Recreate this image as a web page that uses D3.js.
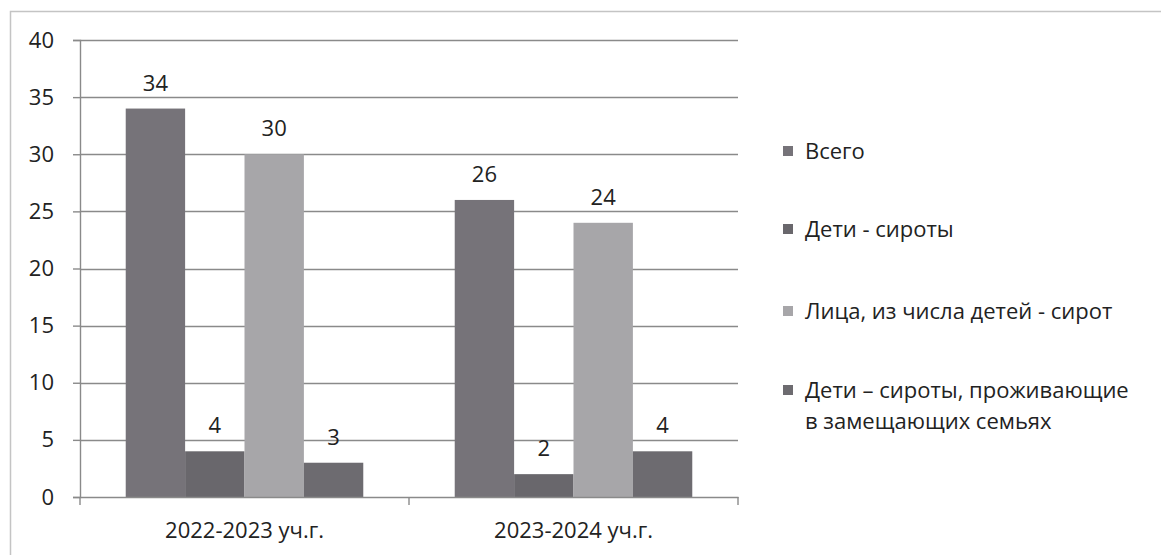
<!DOCTYPE html>
<meta charset="utf-8">
<script src="https://d3js.org/d3.v7.min.js"></script>
<style>
  body { margin: 0; background: #fff; }
  text { font-family: "Open Sans", "Noto Sans", sans-serif; fill: #222; }
</style>
<div id="my_dataviz"></div>
<script>

// data
var categories = ["2022-2023 уч.г.", "2023-2024 уч.г."];
var seriesNames = ["Всего", "Дети - сироты", "Лица, из числа детей - сирот", "Дети – сироты, проживающие в замещающих семьях"];
var legendLines = [["Всего"], ["Дети - сироты"], ["Лица, из числа детей - сирот"], ["Дети – сироты, проживающие", "в замещающих семьях"]];
var vsego = [34, 26];
var deti = [4, 2];
var litsa = [30, 24];
var zamesh = [3, 4];
var yTicks = [0, 5, 10, 15, 20, 25, 30, 35, 40];
var colors = ["#767379", "#69676c", "#a7a6a9", "#6d6b70"];

var seriesValues = [vsego, deti, litsa, zamesh];

var W = 1161, H = 555;
var margin = {top: 40, left: 80, right: 423, bottom: 58};
var width = W - margin.left - margin.right,
    height = H - margin.top - margin.bottom;
var fs = "22px";

var svg = d3.select("#my_dataviz")
  .append("svg")
    .attr("width", W)
    .attr("height", H);

// outer chart border
svg.append("path")
    .attr("d", "M10.5," + H + "V11.5H" + W)
    .attr("fill", "none")
    .attr("stroke", "#c4c4c4")
    .attr("stroke-width", 1.5);

var g = svg.append("g")
    .attr("transform", "translate(" + margin.left + "," + margin.top + ")");

var x0 = d3.scaleBand()
    .domain(categories)
    .range([0, width]);

// Excel style: bars occupy band minus gap (gap ~ 1.54 bar width)
var x1 = d3.scaleBand()
    .domain(seriesNames)
    .range([0, x0.bandwidth()])
    .paddingOuter(0.77)
    .paddingInner(0);

var y = d3.scaleLinear()
    .domain([0, 40])
    .range([height, 0]);

// gridlines
g.selectAll(".grid")
  .data(yTicks.filter(function(d) { return d > 0; }))
  .enter().append("line")
    .attr("x1", 0)
    .attr("x2", width)
    .attr("y1", function(d) { return Math.round(y(d)) + 0.5; })
    .attr("y2", function(d) { return Math.round(y(d)) + 0.5; })
    .attr("stroke", "#8a8a8a")
    .attr("stroke-width", 1.4);

// bars
var groups = g.selectAll(".cat")
  .data(categories)
  .enter().append("g")
    .attr("transform", function(d) { return "translate(" + x0(d) + ",0)"; });

function rows(c, ci) {
  return seriesNames.map(function(s, si) { return {s: s, si: si, v: seriesValues[si][ci]}; });
}

groups.selectAll("rect")
  .data(rows)
  .enter().append("rect")
    .attr("x", function(d) { return x1(d.s); })
    .attr("width", x1.bandwidth())
    .attr("y", function(d) { return y(d.v); })
    .attr("height", function(d) { return height - y(d.v); })
    .attr("fill", function(d) { return colors[d.si]; });

groups.selectAll(".lbl")
  .data(rows)
  .enter().append("text")
    .attr("x", function(d) { return x1(d.s) + x1.bandwidth() / 2; })
    .attr("y", function(d) { return y(d.v) - 18; })
    .attr("text-anchor", "middle")
    .style("font-size", fs)
    .text(function(d) { return d.v; });

// y axis
var yAxis = g.append("g")
    .call(d3.axisLeft(y).tickValues(yTicks).tickSize(7).tickPadding(19));
yAxis.select(".domain").attr("stroke", "#8a8a8a").attr("stroke-width", 1.4);
yAxis.selectAll(".tick line").attr("stroke", "#8a8a8a").attr("stroke-width", 1.4);
yAxis.selectAll("text").style("font-size", fs).attr("fill", "#222");

// x axis
var xAxis = g.append("g")
    .attr("transform", "translate(0," + height + ")")
    .call(d3.axisBottom(x0).tickSize(0).tickPadding(25));
xAxis.select(".domain").attr("stroke", "#8a8a8a").attr("stroke-width", 1.4);
xAxis.selectAll("text").style("font-size", fs).attr("fill", "#222");

// category boundary ticks
xAxis.selectAll(".bnd")
  .data([0, 1, 2])
  .enter().append("line")
    .attr("x1", function(d) { return d * x0.bandwidth(); })
    .attr("x2", function(d) { return d * x0.bandwidth(); })
    .attr("y1", 0)
    .attr("y2", 8)
    .attr("stroke", "#8a8a8a")
    .attr("stroke-width", 1.4);

// legend
var legendY = [151, 229, 311, 390];
var legend = svg.append("g");
legendLines.forEach(function(lines, i) {
  legend.append("rect")
      .attr("x", 783)
      .attr("y", legendY[i] - 5)
      .attr("width", 10)
      .attr("height", 10)
      .attr("fill", colors[i]);
  lines.forEach(function(t, j) {
    legend.append("text")
        .attr("x", 805)
        .attr("y", legendY[i] + j * 31)
        .attr("dy", "0.35em")
        .style("font-size", fs)
        .text(t);
  });
});

</script>
